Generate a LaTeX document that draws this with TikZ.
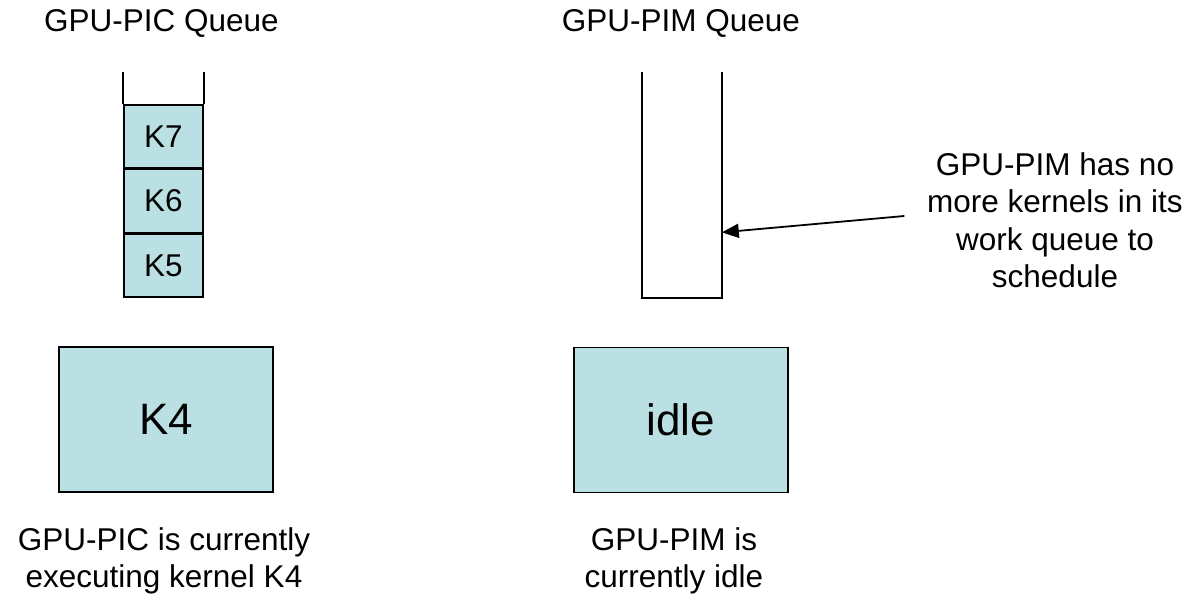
\documentclass[tikz,border=0pt]{standalone}
\usepackage{fontspec}
\setmainfont{Liberation Sans}
\usetikzlibrary{arrows.meta,positioning,calc}
\definecolor{kfill}{RGB}{187,224,227}

\begin{document}
\begin{tikzpicture}[
  x=1pt, y=-1pt, line width=1.6pt,
  txt/.style={font=\fontsize{31.5}{37.5}\selectfont, align=center, inner sep=0pt},
  slot/.style={draw, fill=kfill, minimum width=79pt, minimum height=63pt, inner sep=0pt, txt},
  core/.style={draw, fill=kfill, minimum width=214pt, minimum height=145pt, inner sep=0pt, font=\fontsize{44}{50}\selectfont},
  arr/.style={-{Triangle[length=17pt, width=14pt]}, line width=1.8pt}]
  \useasboundingbox (0,0) rectangle (1194,599);
  % GPU-PIC side
  \node[txt, anchor=base] (picq) at (161.5,32) {GPU-PIC Queue};
  \node[slot] (k5) at (163.5,265.5) {K5};
  \node[slot, above=0pt of k5] (k6) {K6};
  \node[slot, above=0pt of k6] (k7) {K7};
  \node[core] (pic) at (166,419.5) {K4};
  \node[txt] (picst) at (164,561) {GPU-PIC is currently\\executing kernel K4};
  % GPU-PIM side
  \node[txt, anchor=base] (pimql) at (681,32) {GPU-PIM Queue};
  \node[minimum width=78pt, minimum height=224pt, inner sep=0pt] (pimq) at (682,185) {};
  \node[core] (pim) at (681,420) {idle};
  \node[txt] (pimst) at (674,561) {GPU-PIM is\\currently idle};
  \node[txt, inner xsep=22pt] (note) at (1055,220) {GPU-PIM has no\\more kernels in its\\work queue to\\schedule};
  \coordinate (tip) at ($(pimq.south east)!0.29!(pimq.north east)$);
  % queue walls
  \draw (k7.north west) -- (k7.north west |- pimq.north);
  \draw (k7.north east) -- (k7.north east |- pimq.north);
  \draw (pimq.north west) -- (pimq.south west) -- (pimq.south east) -- (pimq.north east);
  \draw[arr] ([yshift=4pt]note.west) -- (tip);
\end{tikzpicture}
\end{document}
